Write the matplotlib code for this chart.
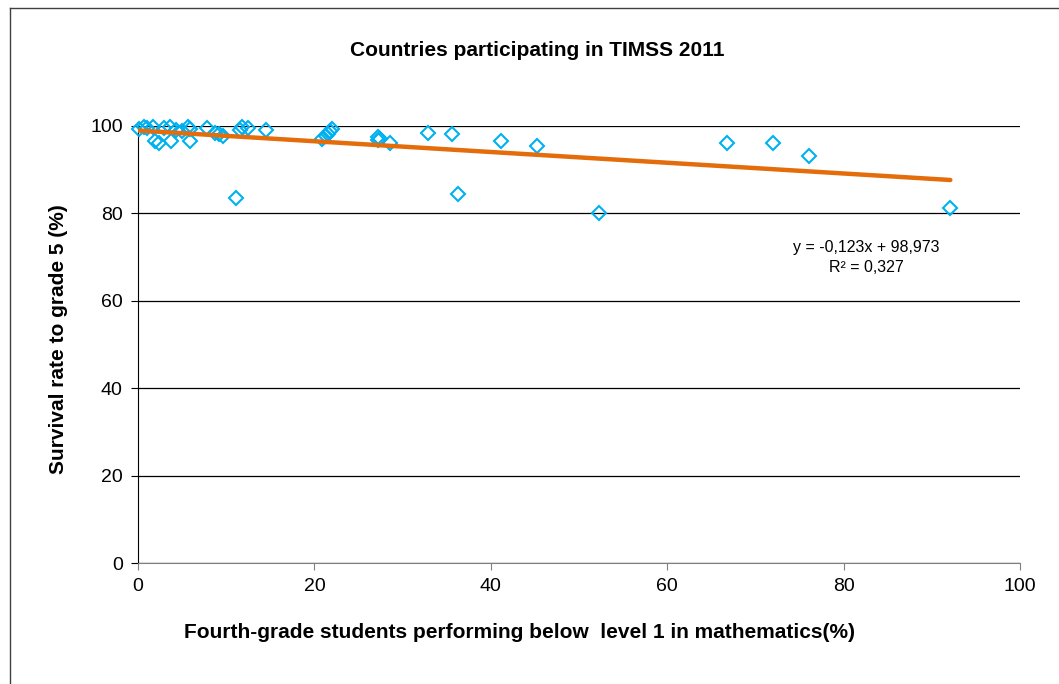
import numpy as np
import matplotlib.pyplot as plt

plt.rcParams['font.family'] = ['Liberation Sans', 'DejaVu Sans']

# fourth-grade students below level 1 (%) vs survival rate to grade 5 (%)
below_level1 = [0.1, 0.7, 1.0, 1.7, 1.9, 2.4, 2.9, 3.6, 3.7, 4.3, 5.0, 5.7, 5.9, 5.9,
                7.8, 8.7, 9.2, 9.6, 11.1, 11.6, 11.8, 12.5, 14.5, 20.9, 21.3, 21.5,
                21.8, 22.0, 27.2, 27.2, 27.4, 28.6, 32.9, 35.6, 36.3, 41.2, 45.2,
                52.3, 66.8, 72.0, 76.1, 92.1]
survival = [99.3, 99.8, 99.5, 99.8, 96.6, 96.1, 99.5, 99.8, 96.6, 99.1, 98.9, 99.8, 99.3, 96.6,
            99.5, 98.4, 98.2, 97.7, 83.5, 99.1, 99.8, 99.5, 99.1, 97.0, 97.7, 98.2,
            98.9, 99.3, 96.8, 97.5, 97.0, 96.1, 98.4, 98.2, 84.4, 96.6, 95.4,
            80.1, 96.1, 96.1, 93.1, 81.2]

# linear trend as printed on the chart
slope = -0.123
intercept = 98.973
r2 = 0.327

fig = plt.figure(figsize=(10.59, 6.84), dpi=100)
ax = fig.add_axes([138/1059, 1 - 563/684, (1020-138)/1059, (563-126)/684])

ax.set_xlim(0, 100)
ax.set_ylim(0, 100)
ax.set_xticks(range(0, 101, 20))
ax.set_yticks(range(0, 101, 20))
ax.yaxis.grid(True, color='black', linewidth=0.9)
ax.set_axisbelow(True)
for s in ['top', 'right']:
    ax.spines[s].set_visible(False)
ax.spines['left'].set_color('black')
ax.spines['bottom'].set_color('#808080')
ax.tick_params(axis='both', direction='out', length=5, labelsize=14, pad=6)
ax.tick_params(axis='x', color='#808080')

ax.plot(below_level1, survival, linestyle='none', marker='D', markersize=7.5,
        markerfacecolor='none', markeredgecolor='#00B0F0', markeredgewidth=1.5,
        clip_on=False, zorder=3)

xs = np.array([min(below_level1), max(below_level1)])
ax.plot(xs, slope * xs + intercept, color='#E46C0A', linewidth=3.2,
        solid_capstyle='round', zorder=4)

fig.text(866/1059, 1 - 247/684, 'y = -0,123x + 98,973',
         ha='center', va='center', fontsize=11.5)
fig.text(866/1059, 1 - 267/684, 'R² = 0,327',
         ha='center', va='center', fontsize=11.5)

fig.text(537/1059, 1 - 50/684, 'Countries participating in TIMSS 2011',
         ha='center', va='center', fontsize=15, fontweight='bold')
fig.text(520/1059, 1 - 633/684,
         'Fourth-grade students performing below  level 1 in mathematics(%)',
         ha='center', va='center', fontsize=15, fontweight='bold')
fig.text(58/1059, 1 - 339/684, 'Survival rate to grade 5 (%)', rotation=90,
         ha='center', va='center', fontsize=15, fontweight='bold')

# outer chart frame
fig.add_artist(plt.Line2D([10/1059, 10/1059], [0, 1 - 8/684], color='#404040',
                          linewidth=1, transform=fig.transFigure))
fig.add_artist(plt.Line2D([10/1059, 1], [1 - 8/684, 1 - 8/684], color='#404040',
                          linewidth=1, transform=fig.transFigure))

fig.savefig('out.png', dpi=100)
